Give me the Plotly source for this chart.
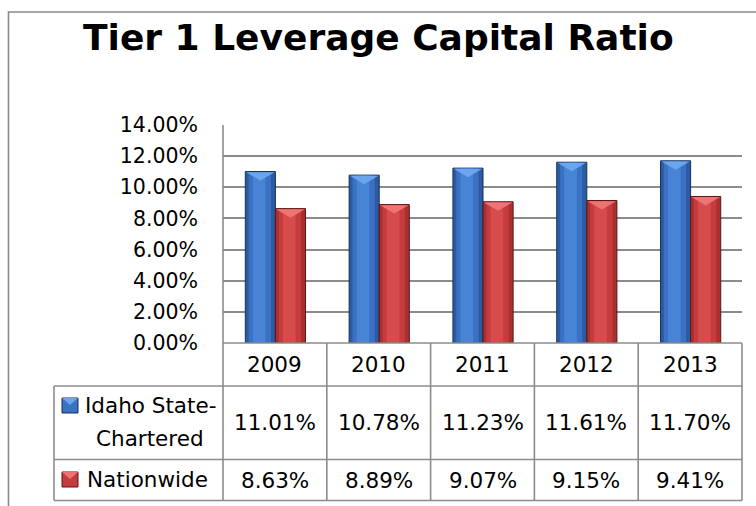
import plotly.graph_objects as go

# ---- data -------------------------------------------------------------
years = ["2009", "2010", "2011", "2012", "2013"]
idaho = [11.01, 10.78, 11.23, 11.61, 11.70]
nationwide = [8.63, 8.89, 9.07, 9.15, 9.41]
series_names = ["Idaho State-Chartered", "Nationwide"]
y_ticks = [0, 2, 4, 6, 8, 10, 12, 14]

# ---- canvas geometry ---------------------------------------------------
W, H = 756, 506
L, R, T, B = 223, 14, 125, 163
PW, PH = W - L - R, H - T - B


def px(xp):
    return (xp - L) / PW


def py(yp):
    return (H - B - yp) / PH


FONT = "DejaVu Sans"
GRID = "#8c8c8c"

BLUE = dict(base="#2c5ba2", mid="#3a71c3", light="#4784d6", top="#6aa5ee",
            edge="#17315c")
RED = dict(base="#a83031", mid="#c63c3d", light="#d64b4b", top="#ec7474",
           edge="#5a1717")

BAR_W = 0.29
OFFSETS = [-0.285, 0.005]

xs = list(range(len(years)))
fig = go.Figure()


def add_bevel_bar(values, off, pal, name):
    # body of the bar with darker outline
    fig.add_trace(go.Bar(x=xs, y=values, width=BAR_W, offset=off, name=name,
                         marker=dict(color=pal["base"],
                                     line=dict(color=pal["edge"], width=1)),
                         showlegend=False, hoverinfo="skip"))
    # lighter inner bands give the rounded, bevelled look
    for frac, col in ((0.74, pal["mid"]), (0.42, pal["light"])):
        w = BAR_W * frac
        fig.add_trace(go.Bar(x=xs, y=[v - 0.06 for v in values], base=0.03,
                             width=w, offset=off + (BAR_W - w) / 2 - 0.02 * (1 - frac),
                             marker=dict(color=col, line=dict(width=0)),
                             showlegend=False, hoverinfo="skip"))
    # lighter top facet
    tx, ty = [], []
    for i, v in enumerate(values):
        x0 = i + off + 0.008
        x1 = i + off + BAR_W - 0.008
        tx += [x0, x1, (x0 + x1) / 2, x0, None]
        ty += [v - 0.04, v - 0.04, v - 0.58, v - 0.04, None]
    fig.add_trace(go.Scatter(x=tx, y=ty, mode="lines", fill="toself",
                             fillcolor=pal["top"], line=dict(width=0),
                             showlegend=False, hoverinfo="skip"))


add_bevel_bar(idaho, OFFSETS[0], BLUE, series_names[0])
add_bevel_bar(nationwide, OFFSETS[1], RED, series_names[1])

# ---- data table under the plot -----------------------------------------
shapes = []


def hline(y, x0, x1, color=GRID, width=1.6):
    shapes.append(dict(type="line", xref="paper", yref="paper", x0=x0, x1=x1,
                       y0=y, y1=y, line=dict(color=color, width=width)))


def vline(x, y0, y1, color=GRID, width=1.6):
    shapes.append(dict(type="line", xref="paper", yref="paper", x0=x, x1=x,
                       y0=y0, y1=y1, line=dict(color=color, width=width)))


label_x = px(54)
row_y = [0, py(386), py(459.5), py(500.5)]

hline(0, 0, 1)
for yv in row_y[1:]:
    hline(yv, label_x, 1)
for k in range(len(years) + 1):
    vline(k / len(years), row_y[-1], 1 if k == 0 else 0)
vline(label_x, row_y[-1], row_y[1])

# outer chart frame
shapes.append(dict(type="rect", xref="paper", yref="paper",
                   x0=px(8.5), x1=px(800), y0=py(12), y1=py(560),
                   line=dict(color="#8a8a8a", width=1.6), layer="below"))

annotations = []
TABLE_SIZE = 21.5


def text(x, y, s, xref="x", size=TABLE_SIZE, **kw):
    annotations.append(dict(x=x, y=y, xref=xref, yref="paper", text=s,
                            xanchor="center", yanchor="middle",
                            showarrow=False, font=dict(family=FONT, size=size,
                                                       color="black"), **kw))


for i, yr in enumerate(years):
    text(i, (row_y[0] + row_y[1]) / 2, yr)
    text(i, (row_y[1] + row_y[2]) / 2, f"{idaho[i]:.2f}%")
    text(i, (row_y[2] + row_y[3]) / 2, f"{nationwide[i]:.2f}%")

name_top, name_bottom = series_names[0].split("-")
text(px(150), py(405), name_top + "-", xref="paper")
text(px(150), py(438.5), name_bottom, xref="paper")
text(px(147), py(479.5), series_names[1], xref="paper")


# legend keys drawn as small bevelled squares
def legend_key(x0p, y0p, pal):
    x0, x1 = px(x0p), px(x0p + 16)
    y0, y1 = py(y0p), py(y0p + 15)
    shapes.append(dict(type="rect", xref="paper", yref="paper", x0=x0, x1=x1,
                       y0=y1, y1=y0, fillcolor=pal["mid"],
                       line=dict(color=pal["edge"], width=1)))
    xm = (x0 + x1) / 2
    ym = py(y0p + 7)
    shapes.append(dict(type="path", xref="paper", yref="paper",
                       path=f"M {x0} {y0} L {x1} {y0} L {xm} {ym} Z",
                       fillcolor=pal["top"], line=dict(width=0)))


legend_key(62, 398, BLUE)
legend_key(62, 472, RED)

# ---- title -------------------------------------------------------------
annotations.append(dict(x=px(W / 2), xref="paper", y=py(37.5), yref="paper",
                        xanchor="center", yanchor="middle",
                        text="<b>Tier 1 Leverage Capital Ratio</b>",
                        showarrow=False,
                        font=dict(family=FONT, size=36, color="black")))

fig.update_layout(
    width=W, height=H,
    margin=dict(l=L, r=R, t=T, b=B),
    paper_bgcolor="white", plot_bgcolor="white",
    barmode="overlay",
    showlegend=False,
    shapes=shapes,
    annotations=annotations,
    xaxis=dict(range=[-0.5, len(years) - 0.5], showticklabels=False,
               showgrid=False, zeroline=False, fixedrange=True),
    yaxis=dict(range=[0, 14], tickvals=y_ticks,
               ticktext=[f"{v:.2f}%" for v in y_ticks],
               showgrid=True, gridcolor=GRID, gridwidth=1.6,
               zeroline=False, ticks="", ticklabelstandoff=24,
               tickfont=dict(family=FONT, size=20.5, color="black"),
               fixedrange=True),
)

fig.write_html("out.html")
